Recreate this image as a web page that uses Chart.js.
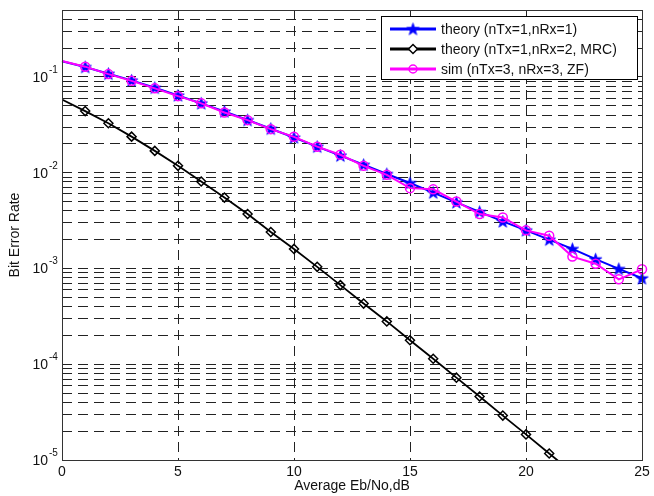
<!DOCTYPE html>
<html>
<head>
<meta charset="utf-8">
<script src="https://cdn.jsdelivr.net/npm/chart.js@4.4.1/dist/chart.umd.min.js"></script>
<style>
  html, body { margin: 0; padding: 0; background: #fff; }
</style>
</head>
<body>
<canvas id="ber" width="654" height="496"></canvas>
<script>
// data
const snrDb = [0, 1, 2, 3, 4, 5, 6, 7, 8, 9, 10, 11, 12, 13, 14, 15, 16, 17, 18, 19, 20, 21, 22, 23, 24, 25];
const berTheory1x1 = [0.146, 0.127, 0.108, 0.092, 0.077, 0.064, 0.053, 0.0435, 0.0355, 0.0288, 0.0233, 0.0187, 0.0151, 0.0121, 0.0097, 0.0078, 0.0062, 0.0049, 0.0039, 0.0031, 0.0025, 0.0020, 0.0016, 0.00125, 0.00099, 0.00079];
const berTheoryMrc = [0.058, 0.044, 0.0328, 0.0238, 0.0169, 0.0118, 0.0081, 0.0055, 0.0037, 0.0024, 0.0016, 0.00104, 0.00067, 0.00043, 0.00028, 0.000178, 0.000114, 0.0000724, 0.000046, 0.0000291, 0.0000185, 0.0000117, 0.0000074];
const berSimZf = [0.147, 0.128, 0.107, 0.091, 0.076, 0.063, 0.053, 0.0425, 0.0354, 0.0285, 0.0237, 0.0187, 0.0154, 0.0118, 0.0095, 0.0069, 0.0067, 0.0050, 0.0037, 0.0034, 0.0025, 0.0022, 0.00133, 0.00112, 0.00077, 0.00098];

const seriesLabels = ['theory (nTx=1,nRx=1)', 'theory (nTx=1,nRx=2, MRC)', 'sim (nTx=3, nRx=3, ZF)'];
const seriesColors = ['#0000ff', '#000000', '#ff00ff'];

const xTicks = [0, 5, 10, 15, 20, 25];
const yDecades = [-5, -4, -3, -2, -1];
const yMinorSteps = [1, 2, 3, 4, 5, 6, 7, 8, 9];
const yMin = 1e-5;
const yMax = 0.5;
const xAxisTitle = 'Average Eb/No,dB';
const yAxisTitle = 'Bit Error Rate';

const FONT = '"Liberation Sans", Arial, Helvetica, sans-serif';

const yTickValues = yDecades
    .flatMap(e => yMinorSteps.map(m => m * Math.pow(10, e)))
    .filter(v => v <= yMax * 1.000001);

function toPoints(values) {
    return values.map((v, i) => ({ x: snrDb[i], y: v }));
}

// filled five-point star, like matlab's pentagram marker
function makeStar(color, r) {
    const s = Math.ceil(r * 2 + 2);
    const c = document.createElement('canvas');
    c.width = s;
    c.height = s;
    const g = c.getContext('2d');
    g.translate(s / 2, s / 2 + 0.5);
    g.beginPath();
    for (let i = 0; i < 10; i++) {
        const rad = i % 2 === 0 ? r : r * 0.4;
        const a = -Math.PI / 2 + i * Math.PI / 5;
        g.lineTo(rad * Math.cos(a), rad * Math.sin(a));
    }
    g.closePath();
    g.fillStyle = color;
    g.fill();
    g.lineWidth = 0.8;
    g.strokeStyle = color;
    g.stroke();
    return c;
}
const starImg = makeStar(seriesColors[0], 6.5);

const hideFirst = r => ctx => (ctx.dataIndex === 0 ? 0 : r);

// y labels as 10 with a raised exponent
const decadeLabels = {
    id: 'decadeLabels',
    afterDraw(chart) {
        const { ctx } = chart;
        const y = chart.scales.y;
        ctx.save();
        ctx.fillStyle = '#111';
        yDecades.forEach(e => {
            const py = y.getPixelForValue(Math.pow(10, e));
            ctx.font = '14px ' + FONT;
            ctx.textAlign = 'right';
            ctx.textBaseline = 'middle';
            ctx.fillText('10', 48, py + 1);
            ctx.font = '10px ' + FONT;
            ctx.textAlign = 'left';
            ctx.textBaseline = 'alphabetic';
            ctx.fillText(String(e), 49, py - 4);
        });
        ctx.restore();
    }
};

// box round the plot, then the legend on top
const frameAndLegend = {
    id: 'frameAndLegend',
    afterDraw(chart) {
        const { ctx, chartArea: a } = chart;
        ctx.save();
        ctx.strokeStyle = '#333';
        ctx.lineWidth = 1;
        ctx.strokeRect(Math.round(a.left) + 0.5, Math.round(a.top) + 0.5,
            Math.round(a.right - a.left), Math.round(a.bottom - a.top));

        const bx = 381.5, by = 16.5, bw = 256, bh = 63;
        ctx.fillStyle = '#fff';
        ctx.fillRect(bx, by, bw, bh);
        ctx.strokeStyle = '#000';
        ctx.strokeRect(bx, by, bw, bh);

        chart.data.datasets.forEach((ds, i) => {
            const ry = 29 + i * 20;
            ctx.strokeStyle = ds.borderColor;
            ctx.lineWidth = 3;
            ctx.beginPath();
            ctx.moveTo(390, ry);
            ctx.lineTo(436, ry);
            ctx.stroke();
            const mx = 413;
            if (i === 0) {
                ctx.drawImage(starImg, mx - starImg.width / 2, ry - starImg.height / 2);
            } else if (i === 1) {
                ctx.lineWidth = 1.5;
                ctx.strokeStyle = ds.borderColor;
                ctx.fillStyle = '#fff';
                ctx.beginPath();
                ctx.moveTo(mx, ry - 4.5);
                ctx.lineTo(mx + 4.5, ry);
                ctx.lineTo(mx, ry + 4.5);
                ctx.lineTo(mx - 4.5, ry);
                ctx.closePath();
                ctx.fill();
                ctx.stroke();
            } else {
                ctx.lineWidth = 1.5;
                ctx.strokeStyle = ds.borderColor;
                ctx.beginPath();
                ctx.arc(mx, ry, 4, 0, Math.PI * 2);
                ctx.stroke();
            }
            ctx.fillStyle = '#111';
            ctx.font = '14px ' + FONT;
            ctx.textAlign = 'left';
            ctx.textBaseline = 'middle';
            ctx.fillText(ds.label, 441, ry + 1);
        });
        ctx.restore();
    }
};

const gridStyle = { color: '#222', lineWidth: 1, drawTicks: false };
const borderStyle = { display: false, dash: [10, 6] };

new Chart(document.getElementById('ber'), {
    type: 'line',
    data: {
        datasets: [
            {
                label: seriesLabels[0],
                data: toPoints(berTheory1x1),
                borderColor: seriesColors[0],
                backgroundColor: seriesColors[0],
                borderWidth: 2,
                pointStyle: starImg,
                pointRadius: hideFirst(5),
                order: 3,
                clip: 8
            },
            {
                label: seriesLabels[1],
                data: toPoints(berTheoryMrc),
                borderColor: seriesColors[1],
                backgroundColor: 'rgba(0,0,0,0)',
                borderWidth: 1.8,
                pointStyle: 'rectRot',
                pointRadius: hideFirst(4.5),
                pointBorderWidth: 1.5,
                pointBorderColor: seriesColors[1],
                pointBackgroundColor: 'rgba(0,0,0,0)',
                order: 2
            },
            {
                label: seriesLabels[2],
                data: toPoints(berSimZf),
                borderColor: seriesColors[2],
                backgroundColor: 'rgba(0,0,0,0)',
                borderWidth: 2,
                pointStyle: 'circle',
                pointRadius: hideFirst(4.5),
                pointBorderWidth: 1.5,
                pointBorderColor: seriesColors[2],
                pointBackgroundColor: 'rgba(0,0,0,0)',
                order: 1,
                clip: 8
            }
        ]
    },
    options: {
        responsive: false,
        animation: false,
        devicePixelRatio: 1,
        layout: { padding: { top: 10, right: 12, left: 0, bottom: 0 } },
        elements: { line: { tension: 0 } },
        plugins: {
            legend: { display: false },
            tooltip: { enabled: false }
        },
        scales: {
            x: {
                type: 'linear',
                min: 0,
                max: 25,
                afterBuildTicks: s => { s.ticks = xTicks.map(v => ({ value: v })); },
                afterFit: s => { s.height = 36; },
                ticks: { color: '#111', font: { family: FONT, size: 14 }, padding: 4, maxRotation: 0, autoSkip: false },
                grid: gridStyle,
                border: borderStyle,
                title: {
                    display: true,
                    text: xAxisTitle,
                    color: '#111',
                    font: { family: FONT, size: 14 },
                    padding: { top: 0, bottom: 1 }
                }
            },
            y: {
                type: 'logarithmic',
                min: yMin,
                max: yMax,
                afterBuildTicks: s => { s.ticks = yTickValues.map(v => ({ value: v })); },
                afterFit: s => { s.width = 62; },
                ticks: { display: false, autoSkip: false },
                grid: gridStyle,
                border: borderStyle,
                title: {
                    display: true,
                    text: yAxisTitle,
                    color: '#111',
                    font: { family: FONT, size: 14 },
                    padding: { top: 7, bottom: 0 }
                }
            }
        }
    },
    plugins: [decadeLabels, frameAndLegend]
});
</script>
</body>
</html>
